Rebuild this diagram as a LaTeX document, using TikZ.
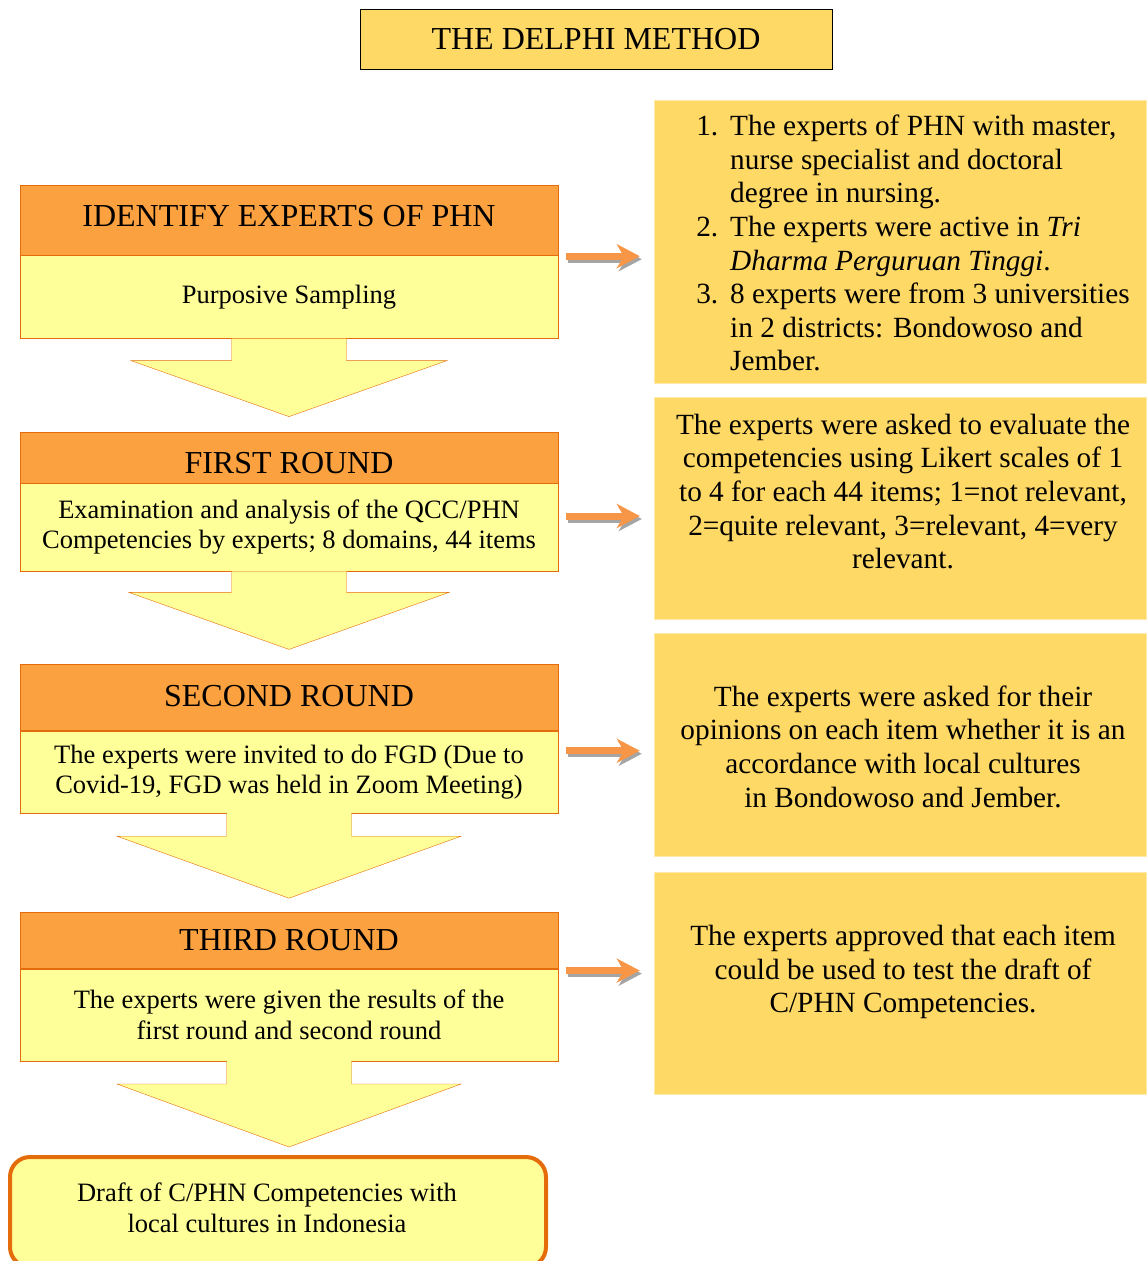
\documentclass[tikz,border=0pt]{standalone}
\usepackage{fontspec}
\setmainfont{Liberation Serif}
\usepackage{xcolor}
\usepackage{tikz}
\usetikzlibrary{arrows.meta,positioning,calc}

\definecolor{headorange}{HTML}{FBA13F}
\definecolor{bodyyellow}{HTML}{FFFF99}
\definecolor{edgeorange}{HTML}{E46C0A}
\definecolor{boxgold}{HTML}{FFD966}
\definecolor{arroworange}{HTML}{F79646}
\definecolor{shadowgray}{HTML}{A5A5A5}

\newcommand{\bigfont}{\fontsize{32}{36}\selectfont}
\newcommand{\midfont}{\fontsize{26.5}{30.5}\selectfont}
\newcommand{\sidefont}{\fontsize{29.3}{33.6}\selectfont}
% header text moved up or down inside its box
\newcommand{\shifted}[2]{\raisebox{#1}[\height][\depth]{#2}}

% one down arrow under a phase box: box, half shaft, shaft, half head, head
\newcommand{\blockarrow}[5]{%
  \filldraw[downblock] ($(#1.south)+(-#2,0)$) -- ++(0,#3) -- ++(#2-#4,0)
    -- ($(#1.south)+(0,#3+#5)$) -- ($(#1.south)+(#4,#3)$) -- ++(#2-#4,0) -- ++(0,-#3);
}

\tikzset{
  phasehead/.style={draw=edgeorange, fill=headorange, minimum width=538pt, font=\bigfont, inner sep=0pt},
  phasebody/.style={draw=edgeorange, fill=bodyyellow, minimum width=538pt, font=\midfont, align=center, inner sep=0pt},
  sidebox/.style={fill=boxgold, draw=boxgold!55!white, minimum width=492pt, inner sep=0pt},
  sidetext/.style={font=\sidefont, align=center, inner sep=0pt},
  downblock/.style={draw=edgeorange, fill=bodyyellow, line join=miter},
  sidearrow/.style={arroworange, line width=7pt, -{Stealth[length=23pt,width=24pt,inset=7pt]}},
  sideshadow/.style={shadowgray, line width=7pt, -{Stealth[length=23pt,width=24pt,inset=7pt]}},
}

\begin{document}
\begin{tikzpicture}[x=1pt, y=-1pt]
    \useasboundingbox (0,0) rectangle (1146,1261);

    \node[draw=black, fill=boxgold, minimum width=472pt, minimum height=60pt, font=\bigfont] (title) at (596,39) {THE DELPHI METHOD};

    % phases on the left
    \node[phasehead, minimum height=70pt] (head1) at (289,220) {\shifted{4pt}{IDENTIFY EXPERTS OF PHN}};
    \node[phasebody, minimum height=83pt, below=0pt of head1] (body1) {Purposive Sampling};
    \node[phasehead, minimum height=51pt, below=93pt of body1] (head2) {\shifted{-6pt}{FIRST ROUND}};
    \node[phasebody, minimum height=88pt, below=0pt of head2] (body2) {Examination and analysis of the QCC/PHN\\Competencies by experts; 8 domains, 44 items};
    \node[phasehead, minimum height=66pt, below=93pt of body2] (head3) {\shifted{2pt}{SECOND ROUND}};
    \node[phasebody, minimum height=82pt, below=0pt of head3] (body3) {The experts were invited to do FGD (Due to\\Covid-19, FGD was held in Zoom Meeting)};
    \node[phasehead, minimum height=56pt, below=99pt of body3] (head4) {THIRD ROUND};
    \node[phasebody, minimum height=92pt, below=0pt of head4] (body4) {The experts were given the results of the\\first round and second round};
    \node[draw=edgeorange, line width=4pt, fill=bodyyellow, rounded corners=20pt, minimum width=536pt, minimum height=110pt, inner sep=0pt, below=94pt of body4, xshift=-11pt] (draft) {};
    \node[font=\midfont, align=center] (drafttext) at ($(draft.center)+(-11,-4)$) {Draft of C/PHN Competencies with\\local cultures in Indonesia};

    \blockarrow{body1}{57.5}{22}{158}{56}
    \blockarrow{body2}{57.5}{21}{160}{57}
    \blockarrow{body3}{62.5}{23}{172}{62}
    \blockarrow{body4}{62.5}{23}{172}{63}

    % notes on the right
    \node[sidebox, minimum height=283pt] (r1) at (900,241.5) {};
    \node[sidebox, minimum height=222pt] (r2) at (900,508) {};
    \node[sidebox, minimum height=223pt] (r3) at (900,744.5) {};
    \node[sidebox, minimum height=222pt] (r4) at (900,983) {};

    \node[sidetext] (r1text) at ($(r1.center)+(13,5)$) {%
      \begin{tabular}{@{}r@{\hspace{12pt}}l@{}}
        1. & The experts of PHN with master,\\
           & nurse specialist and doctoral\\
           & degree in nursing.\\
        2. & The experts were active in \textit{Tri}\\
           & \textit{Dharma Perguruan Tinggi}.\\
        3. & 8 experts were from 3 universities\\
           & in 2 districts: Bondowoso and\\
           & Jember.
      \end{tabular}};
    \node[sidetext] (r2text) at ($(r2.center)+(3,-16.5)$) {The experts were asked to evaluate the\\competencies using Likert scales of 1\\to 4 for each 44 items; 1=not relevant,\\2=quite relevant, 3=relevant, 4=very\\relevant.};
    \node[sidetext] (r3text) at ($(r3.center)+(3,2)$) {The experts were asked for their\\opinions on each item whether it is an\\accordance with local cultures\\in Bondowoso and Jember.};
    \node[sidetext] (r4text) at ($(r4.center)+(3,-11)$) {The experts approved that each item\\could be used to test the draft of\\C/PHN Competencies.};

    \draw[sideshadow] ($(body1.north east)+(10,4)$) -- ($(body1.north east -| r1.west)+(-12,4)$);
    \draw[sidearrow] ($(body1.north east)+(8,1)$) -- ($(body1.north east -| r1.west)+(-14,1)$);
    \draw[sideshadow] ($(body2.north east)+(10,36)$) -- ($(body2.north east -| r2.west)+(-12,36)$);
    \draw[sidearrow] ($(body2.north east)+(8,33)$) -- ($(body2.north east -| r2.west)+(-14,33)$);
    \draw[sideshadow] ($(body3.north east)+(10,23)$) -- ($(body3.north east -| r3.west)+(-12,23)$);
    \draw[sidearrow] ($(body3.north east)+(8,20)$) -- ($(body3.north east -| r3.west)+(-14,20)$);
    \draw[sideshadow] ($(body4.north east)+(10,5)$) -- ($(body4.north east -| r4.west)+(-12,5)$);
    \draw[sidearrow] ($(body4.north east)+(8,2)$) -- ($(body4.north east -| r4.west)+(-14,2)$);
\end{tikzpicture}
\end{document}
